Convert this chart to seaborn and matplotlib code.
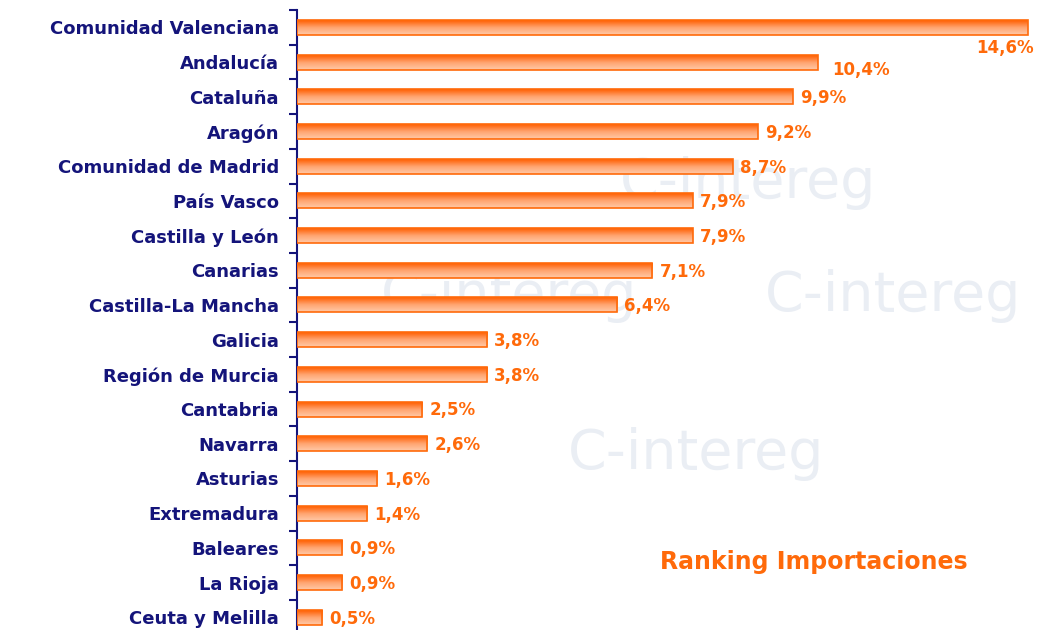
import numpy as np
import pandas as pd
import matplotlib
matplotlib.use("Agg")
import matplotlib.pyplot as plt
import seaborn as sns
from matplotlib.colors import LinearSegmentedColormap

# DATA
regiones = ["Comunidad Valenciana", "Andalucía", "Cataluña", "Aragón",
            "Comunidad de Madrid", "País Vasco", "Castilla y León", "Canarias",
            "Castilla-La Mancha", "Galicia", "Región de Murcia", "Cantabria",
            "Navarra", "Asturias", "Extremadura", "Baleares", "La Rioja",
            "Ceuta y Melilla"]
porcentajes = [14.6, 10.4, 9.9, 9.2, 8.7, 7.9, 7.9, 7.1, 6.4, 3.8, 3.8,
               2.5, 2.6, 1.6, 1.4, 0.9, 0.9, 0.5]
etiquetas = ["14,6%", "10,4%", "9,9%", "9,2%", "8,7%", "7,9%", "7,9%",
             "7,1%", "6,4%", "3,8%", "3,8%", "2,5%", "2,6%", "1,6%",
             "1,4%", "0,9%", "0,9%", "0,5%"]
titulo = "Ranking Importaciones"

df = pd.DataFrame({"region": regiones, "pct": porcentajes})

NAVY = "#14147a"
ORANGE = "#ff6a0a"

sns.set_style("white")
plt.rcParams["font.family"] = ["DejaVu Sans"]

fig = plt.figure(figsize=(10.39, 6.30), dpi=100)

# faint background watermark, in its own axes behind everything
bg = fig.add_axes([0, 0, 1, 1], zorder=0)
bg.set_axis_off()
bg.set_xlim(0, 1)
bg.set_ylim(0, 1)
marcas = [(0.49, 0.53), (0.86, 0.53), (0.67, 0.28), (0.72, 0.71)]
for mx, my in marcas:
    bg.text(mx, my, "C-intereg", color="#eaeef4", fontsize=40,
            ha="center", va="center")

ax = fig.add_axes([297 / 1039, -4.6 / 630, 741 / 1039, 624.6 / 630], zorder=1)
ax.patch.set_alpha(0)

sns.barplot(data=df, x="pct", y="region", orient="h", width=0.43,
            color=ORANGE, edgecolor=ORANGE, linewidth=1.2, ax=ax, zorder=3)

# vertical gradient inside each bar (dark on top, light below)
cmap = LinearSegmentedColormap.from_list("naranja", ["#ffcaa8", "#ffa470", "#ff5e00"])
grad = np.linspace(0, 1, 64).reshape(-1, 1)
for bar in ax.patches:
    x0, y0 = bar.get_x(), bar.get_y()
    w, h = bar.get_width(), bar.get_height()
    im = ax.imshow(grad, cmap=cmap, aspect="auto", zorder=3.5, origin="lower",
                   extent=[x0, x0 + w, y0 + h, y0], interpolation="bilinear")
    im.set_clip_path(bar)
    bar.set_facecolor("none")
    bar.set_zorder(4)
ax.set_xlim(0, 14.8)
ax.set_ylim(len(regiones) - 0.5, -0.5)

# value labels
desplaz = {0: (0.12, 0.6, "right"), 1: (0.28, 0.22, "left")}
for i, (v, t) in enumerate(zip(porcentajes, etiquetas)):
    dx, dy, ha = desplaz.get(i, (0.14, 0.04, "left"))
    ax.text(v + dx, i + dy, t, color=ORANGE, fontsize=12, fontweight="bold",
            ha=ha, va="center", zorder=5)

# axes styling
for s in ["top", "right", "bottom"]:
    ax.spines[s].set_visible(False)
ax.spines["left"].set_color(NAVY)
ax.spines["left"].set_linewidth(1.5)
ax.set_xticks([])
ax.set_xlabel("")
ax.set_ylabel("")
ax.set_yticks(range(len(regiones)))
ax.set_yticklabels(regiones, color=NAVY, fontsize=13, fontweight="bold")
ax.set_yticks(np.arange(-0.5, len(regiones), 1), minor=True)
ax.tick_params(axis="y", which="major", length=0, pad=13)
ax.tick_params(axis="y", which="minor", length=6, width=1.5, color=NAVY,
               direction="out", left=True)

fig.text(660 / 1039, 1 - 562 / 630, titulo, color=ORANGE, fontsize=17,
         fontweight="bold", ha="left", va="center")

fig.savefig("out.png", dpi=100)
